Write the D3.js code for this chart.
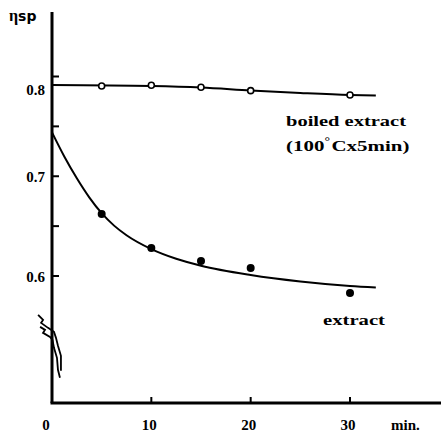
<!DOCTYPE html>
<html><head><meta charset="utf-8">
<script src="https://cdn.jsdelivr.net/npm/d3@7"></script>
<style>body{margin:0;background:#fff}svg{display:block}</style>
</head><body>
<script>
// ---- data ----
const xTicks = [0, 10, 20, 30];
const xTickLabels = ["0", "10", "20", "30"];
const yTicks = [0.6, 0.7, 0.8];
const yTickLabels = ["0.6", "0.7", "0.8"];
const yMinorTicks = [0.65, 0.75];

// boiled extract (open circles)
const boiledTime = [5, 10, 15, 20, 30];
const boiledVisc = [0.7905, 0.7912, 0.7892, 0.7858, 0.7815];
const boiledLineTime = [0, 10, 15, 20, 25, 30, 32.6];
const boiledLineVisc = [0.7915, 0.7905, 0.7890, 0.7860, 0.7835, 0.7815, 0.7810];

// extract (filled circles)
const extractTime = [5, 10, 15, 20, 30];
const extractVisc = [0.6622, 0.6281, 0.6150, 0.6080, 0.5830];
const extractLineTime = [0, 1.25, 2.5, 3.75, 5, 6.25, 7.5, 10, 12.5, 15, 20, 25, 30, 32.6];
const extractLineVisc = [0.744, 0.7196, 0.698, 0.6789, 0.663, 0.6505, 0.6409, 0.627, 0.6173, 0.6103, 0.601, 0.5945, 0.590, 0.5885];

// ---- drawing ----
const W = 441, H = 432;
const svg = d3.select("body").append("svg").attr("width", W).attr("height", H);
const x = d3.scaleLinear().domain([0, 30]).range([52, 350]);
const y = d3.scaleLinear().domain([0.6, 0.8]).range([276, 76.5]);
const xEnd = x.invert(441);
const yBottom = y.invert(403), yTop = y.invert(12);

const font = "'Liberation Serif', 'DejaVu Serif', serif";
const ink = "#000";

// axes lines
svg.append("line").attr("x1", x(0)).attr("x2", x(0)).attr("y1", y(yTop)).attr("y2", y(yBottom))
  .attr("stroke", ink).attr("stroke-width", 3);
svg.append("line").attr("x1", x(0) - 1.5).attr("x2", x(xEnd)).attr("y1", y(yBottom)).attr("y2", y(yBottom))
  .attr("stroke", ink).attr("stroke-width", 3);

// y ticks (inward)
svg.selectAll(".yt").data(yTicks.concat(yMinorTicks)).enter().append("line")
  .attr("class", "yt")
  .attr("x1", x(0)).attr("x2", x(0) + 7).attr("y1", d => y(d)).attr("y2", d => y(d))
  .attr("stroke", ink).attr("stroke-width", 2);
// x ticks (inward)
svg.selectAll(".xt").data(xTicks.slice(1)).enter().append("line")
  .attr("class", "xt")
  .attr("x1", d => x(d)).attr("x2", d => x(d)).attr("y1", y(yBottom)).attr("y2", y(yBottom) - 6)
  .attr("stroke", ink).attr("stroke-width", 2);

// y tick labels
svg.selectAll(".yl").data(yTicks).enter().append("text")
  .attr("x", 45).attr("y", (d) => y(d) + (d === 0.8 ? 18 : 6))
  .attr("text-anchor", "end").attr("font-family", font).attr("font-weight", "bold")
  .attr("font-size", 15).text((d, i) => yTickLabels[i]);

// x tick labels
svg.selectAll(".xl").data(xTicks).enter().append("text")
  .attr("x", (d) => x(d) + (d === 0 ? -6 : -2)).attr("y", 430)
  .attr("text-anchor", "middle").attr("font-family", font).attr("font-weight", "bold")
  .attr("font-size", 15).text((d, i) => xTickLabels[i]);

svg.append("text").attr("x", 391).attr("y", 430).attr("font-family", font).attr("font-weight", "bold")
  .attr("font-size", 15).text("min.");

// y label
const yl = svg.append("text").attr("x", 9).attr("y", 21).attr("font-family", font).attr("font-weight", "bold").attr("font-size", 16);
yl.append("tspan").text("η");
yl.append("tspan").attr("font-size", 14).attr("font-family", "'DejaVu Sans', sans-serif").text("sp");

// lines
const line = d3.line().x(d => x(d[0])).y(d => y(d[1])).curve(d3.curveMonotoneX);
svg.append("path").datum(boiledLineTime.map((t, i) => [t, boiledLineVisc[i]]))
  .attr("d", line).attr("fill", "none").attr("stroke", ink).attr("stroke-width", 2);
svg.append("path").datum(extractLineTime.map((t, i) => [t, extractLineVisc[i]]))
  .attr("d", line).attr("fill", "none").attr("stroke", ink).attr("stroke-width", 2);

// markers
svg.selectAll(".bp").data(boiledTime.map((t, i) => [t, boiledVisc[i]])).enter().append("circle")
  .attr("cx", d => x(d[0])).attr("cy", d => y(d[1])).attr("r", 3)
  .attr("fill", "#fff").attr("stroke", ink).attr("stroke-width", 1.6);
svg.selectAll(".ep").data(extractTime.map((t, i) => [t, extractVisc[i]])).enter().append("circle")
  .attr("cx", d => x(d[0])).attr("cy", d => y(d[1])).attr("r", 4).attr("fill", ink);

// annotations
svg.append("text").attr("x", 286).attr("y", 126).attr("font-family", font).attr("font-weight", "bold")
  .attr("font-size", 15).attr("textLength", 120).attr("lengthAdjust", "spacingAndGlyphs").text("boiled extract");
const t2 = svg.append("text").attr("x", 286).attr("y", 151).attr("font-family", font).attr("font-weight", "bold")
  .attr("font-size", 15);
t2.append("tspan").text("(100");
t2.append("tspan").attr("dy", -6).attr("font-size", 10).text("°");
t2.append("tspan").attr("dy", 6).attr("dx", 1).text("Cx5min)");
const bb = t2.node().getComputedTextLength();
t2.attr("transform", `translate(286,0) scale(${122 / bb},1) translate(-286,0)`);

svg.append("text").attr("x", 323).attr("y", 325).attr("font-family", font).attr("font-weight", "bold")
  .attr("font-size", 15).attr("textLength", 62).attr("lengthAdjust", "spacingAndGlyphs").text("extract");

// axis break scribble (decoration near the axis), placed via scales
const brk = d3.line().x(d => x(d[0])).y(d => y(d[1]));
const brkA = [[-1.4, 0.561], [-0.9, 0.556], [-1.1, 0.553], [-0.4, 0.548], [0.2, 0.544], [0.4, 0.538], [0.6, 0.530], [0.9, 0.520], [0.9, 0.505]];
const brkB = [[-1.2, 0.549], [-0.7, 0.546], [-0.9, 0.543], [-0.2, 0.539], [0.05, 0.536], [0.2, 0.528], [0.5, 0.518], [0.6, 0.506], [0.8, 0.498]];
[brkA, brkB].forEach(p => svg.append("path").attr("d", brk(p)).attr("fill", "none")
  .attr("stroke", ink).attr("stroke-width", 1.8));
</script>
</body></html>
